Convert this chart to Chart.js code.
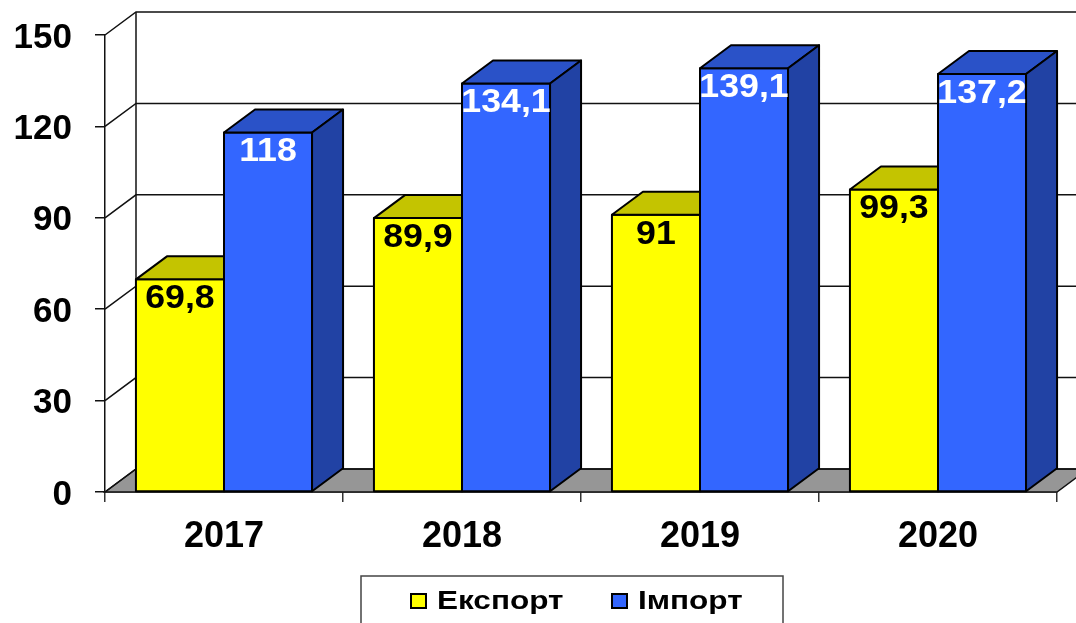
<!DOCTYPE html>
<html>
<head>
<meta charset="utf-8">
<script src="https://cdn.jsdelivr.net/npm/chart.js@4"></script>
<style>
  body { margin: 0; background: #fff; }
  #wrap { width: 1076px; height: 623px; }
</style>
</head>
<body>
<div id="wrap"><canvas id="tradeChart"></canvas></div>
<script>
// Export / import by year
const categories = ['2017', '2018', '2019', '2020'];
const exportValues = [69.8, 89.9, 91, 99.3];
const importValues = [118, 134.1, 139.1, 137.2];
const yTicks = [0, 30, 60, 90, 120, 150];

const FONT = "'Liberation Sans', Arial, sans-serif";
const DX = 31, DY = 23; // depth offset of the 3D box

const faceColors = [
    { top: '#C4C400', side: '#A8A800' },
    { top: '#2A52C8', side: '#2142A4' }
];
const labelColors = ['#000000', '#ffffff'];

function fmt(v) {
    return String(v).replace('.', ',');
}

function poly(ctx, pts, fill) {
    ctx.beginPath();
    ctx.moveTo(pts[0][0], pts[0][1]);
    for (let i = 1; i < pts.length; i++) ctx.lineTo(pts[i][0], pts[i][1]);
    ctx.closePath();
    if (fill) { ctx.fillStyle = fill; ctx.fill(); }
    ctx.stroke();
}

// text slightly stretched sideways, like the original
function wideText(ctx, text, x, y, sx) {
    ctx.save();
    ctx.translate(x, y);
    ctx.scale(sx, 1);
    ctx.fillText(text, 0, 0);
    ctx.restore();
}

// back wall, side wall and floor
const wallsPlugin = {
    id: 'walls',
    beforeDatasetsDraw(chart) {
        const ctx = chart.ctx;
        const area = chart.chartArea;
        const y = chart.scales.y;
        ctx.save();
        ctx.strokeStyle = '#111';
        ctx.lineWidth = 1.5;
        const y0 = y.getPixelForValue(0);
        poly(ctx, [[area.left, y0], [area.right, y0], [area.right + DX, y0 - DY], [area.left + DX, y0 - DY]], '#969696');
        yTicks.forEach(v => {
            const py = y.getPixelForValue(v);
            ctx.beginPath();
            ctx.moveTo(area.left, py);
            ctx.lineTo(area.left + DX, py - DY);
            ctx.lineTo(area.right + DX, py - DY);
            ctx.stroke();
        });
        ctx.beginPath();
        ctx.moveTo(area.left + DX, y.getPixelForValue(yTicks[yTicks.length - 1]) - DY);
        ctx.lineTo(area.left + DX, y0 - DY);
        ctx.stroke();
        ctx.restore();
    }
};

// bars as boxes: front, top and side, drawn category by category
const boxPlugin = {
    id: 'box3d',
    afterDatasetsDraw(chart) {
        const ctx = chart.ctx;
        const sets = chart.data.datasets;
        ctx.save();
        ctx.strokeStyle = '#000';
        ctx.lineWidth = 2;
        ctx.lineJoin = 'round';
        categories.forEach((cat, j) => {
            sets.forEach((ds, i) => {
                const bar = chart.getDatasetMeta(i).data[j];
                const p = bar.getProps(['x', 'y', 'base', 'width'], true);
                const l = p.x - p.width / 2, r = p.x + p.width / 2;
                const c = faceColors[i];
                poly(ctx, [[l, p.y], [r, p.y], [r, p.base], [l, p.base]], ds.backgroundColor);
                poly(ctx, [[l, p.y], [r, p.y], [r + DX, p.y - DY], [l + DX, p.y - DY]], c.top);
                poly(ctx, [[r, p.y], [r + DX, p.y - DY], [r + DX, p.base - DY], [r, p.base]], c.side);
            });
        });
        ctx.font = 'bold 34px ' + FONT;
        ctx.textAlign = 'center';
        ctx.textBaseline = 'alphabetic';
        sets.forEach((ds, i) => {
            chart.getDatasetMeta(i).data.forEach((bar, j) => {
                const p = bar.getProps(['x', 'y'], true);
                ctx.fillStyle = labelColors[i];
                wideText(ctx, fmt(ds.data[j]), p.x, p.y + 29, 1.05);
            });
        });
        ctx.restore();
    },
    afterDraw(chart) {
        // boxed legend at the bottom
        const ctx = chart.ctx;
        ctx.save();
        ctx.strokeStyle = '#444';
        ctx.lineWidth = 1.5;
        ctx.fillStyle = '#fff';
        ctx.fillRect(361, 576, 422, 60);
        ctx.strokeRect(361, 576, 422, 60);
        ctx.font = 'bold 25px ' + FONT;
        ctx.textBaseline = 'alphabetic';
        ctx.textAlign = 'left';
        const xs = [411, 612];
        chart.data.datasets.forEach((ds, i) => {
            ctx.fillStyle = ds.backgroundColor;
            ctx.fillRect(xs[i], 594, 15, 14);
            ctx.strokeStyle = '#000';
            ctx.lineWidth = 2;
            ctx.strokeRect(xs[i], 594, 15, 14);
            ctx.fillStyle = '#000';
            wideText(ctx, ds.label, xs[i] + 26, 609, 1.26);
        });
        ctx.restore();
    }
};

new Chart(document.getElementById('tradeChart'), {
    type: 'bar',
    data: {
        labels: categories,
        datasets: [{
            label: 'Експорт',
            data: exportValues,
            backgroundColor: '#FFFF00',
            borderColor: '#000',
            borderWidth: 2,
            borderSkipped: false
        }, {
            label: 'Імпорт',
            data: importValues,
            backgroundColor: '#3366FF',
            borderColor: '#000',
            borderWidth: 2,
            borderSkipped: false
        }]
    },
    options: {
        responsive: true,
        maintainAspectRatio: false,
        animation: false,
        layout: { padding: { top: 35, right: 19, left: 0, bottom: 0 } },
        datasets: { bar: { categoryPercentage: 0.74, barPercentage: 1 } },
        plugins: {
            legend: { display: false },
            tooltip: { enabled: false }
        },
        scales: {
            x: {
                afterFit(scale) { scale.height = 131; },
                grid: { drawOnChartArea: false, tickLength: 10, color: '#333', lineWidth: 1.5 },
                border: { color: '#111', width: 1.5 },
                ticks: { color: '#000', padding: 13, font: { family: FONT, size: 36, weight: 'bold' } }
            },
            y: {
                min: 0,
                max: 150,
                afterFit(scale) {
                    scale.width = 105;
                    scale.paddingTop = 0;
                    scale.paddingBottom = 0;
                },
                afterBuildTicks(scale) { scale.ticks = yTicks.map(v => ({ value: v })); },
                grid: { drawOnChartArea: false, tickLength: 10, color: '#111', lineWidth: 1.5 },
                border: { color: '#111', width: 1.5 },
                ticks: { color: '#000', padding: 23, labelOffset: 3, font: { family: FONT, size: 35, weight: 'bold' } }
            }
        }
    },
    plugins: [wallsPlugin, boxPlugin]
});
</script>
</body>
</html>
